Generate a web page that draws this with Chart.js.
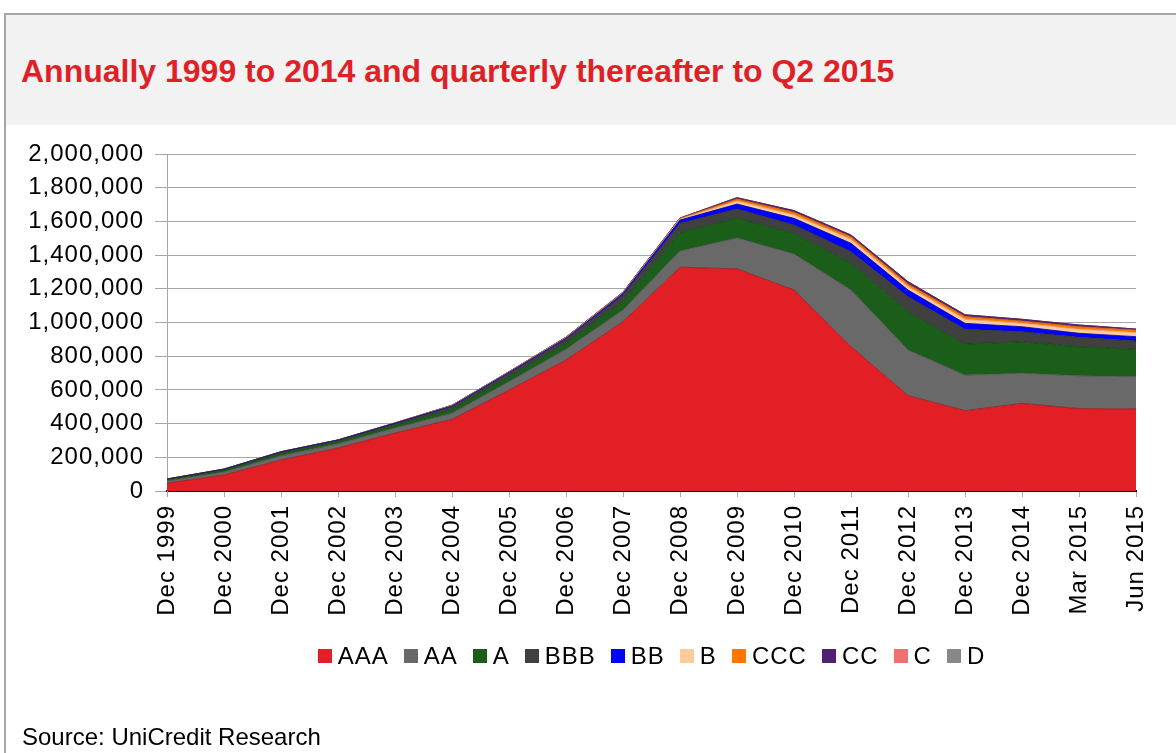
<!DOCTYPE html>
<html>
<head>
<meta charset="utf-8">
<script src="https://cdn.jsdelivr.net/npm/chart.js@4.4.1/dist/chart.umd.min.js"></script>
<style>
  html, body { margin:0; padding:0; background:#fff; }
  body { width:1176px; height:753px; position:relative; overflow:hidden; font-family:"Liberation Sans", Arial, sans-serif; }
  #frameTop { position:absolute; left:4px; top:13px; width:1172px; height:2px; background:#a6a6a6; }
  #frameLeft { position:absolute; left:4px; top:13px; width:2px; height:740px; background:#a6a6a6; }
  #band { position:absolute; left:6px; top:15px; width:1170px; height:110px; background:#f2f2f2; }
  #title { position:absolute; left:21px; top:55px; font-weight:bold; font-size:32px; line-height:32px; color:#e11f26; white-space:nowrap; }
  #source { position:absolute; left:22px; top:725px; font-size:24px; line-height:24px; color:#000; white-space:nowrap; }
  #chart { position:absolute; left:0; top:0; }
  #legend { position:absolute; top:644px; left:0; width:1303px; display:flex; justify-content:center; align-items:center; }
  .li { display:flex; align-items:center; margin-right:15px; }
  .li:last-child { margin-right:0; }
  .sw { width:14px; height:14px; margin-right:6px; }
  .lt { font-size:24px; line-height:24px; letter-spacing:1px; color:#000; }
</style>
</head>
<body>
<div id="frameTop"></div>
<div id="frameLeft"></div>
<div id="band"></div>
<div id="title">Annually 1999 to 2014 and quarterly thereafter to Q2 2015</div>
<canvas id="chart" width="1176" height="753"></canvas>
<div id="legend"></div>
<div id="source">Source: UniCredit Research</div>
<script>
const categories = ['Dec 1999','Dec 2000','Dec 2001','Dec 2002','Dec 2003','Dec 2004','Dec 2005','Dec 2006','Dec 2007','Dec 2008','Dec 2009','Dec 2010','Dec 2011','Dec 2012','Dec 2013','Dec 2014','Mar 2015','Jun 2015'];
const seriesNames = ['AAA','AA','A','BBB','BB','B','CCC','CC','C','D'];
const AAA = [47000,95000,184000,255000,344000,425000,599000,777000,1005000,1328000,1318000,1193000,857000,566000,477000,520000,489000,487000];
const AA  = [12000,18000,25000,25000,30000,36000,50000,64000,69000,96000,184000,214000,336000,271000,211000,179000,195000,191000];
const A   = [7000,10000,14000,14000,17000,24000,29000,35000,49000,111000,118000,122000,158000,227000,183000,187000,172000,163000];
const BBB = [4000,5000,7000,6000,8000,15000,20000,24000,40000,54000,54000,50000,69000,89000,89000,59000,56000,49000];
const BB  = [1000,2000,3000,3000,4000,5000,6000,7000,9000,19000,29000,39000,50000,40000,35000,30000,24000,26000];
const B   = [0,0,0,0,1000,2000,2000,3000,3000,6000,18000,20000,24000,20000,24000,20000,24000,24000];
const CCC = [0,0,0,0,0,1000,1000,2000,3000,4000,12000,16000,15000,16000,16000,14000,15000,15000];
const CC  = [0,0,0,0,0,1000,1000,1000,2000,2000,8000,10000,10000,13000,11000,10000,10000,6000];
const C   = [0,0,0,0,0,0,0,0,0,0,0,0,0,0,0,0,0,0];
const D   = [0,0,0,0,0,0,0,0,0,0,0,0,0,0,0,0,0,0];
const yTickValues = [0,200000,400000,600000,800000,1000000,1200000,1400000,1600000,1800000,2000000];

const seriesValues = [AAA, AA, A, BBB, BB, B, CCC, CC, C, D];
const fillColors = ['#e31f26','#696969','#1a5e1a','#404040','#0000ff','#ffcc99','#ff7700','#4f2170','#f07070','#888888'];
const lineColors = ['#8a1a1e','#4a4a4a','#124012','#2a2a2a','#0000b0','#e0a070','#c05a00','#4f2170','#c05050','#666666'];

const datasets = seriesNames.map((name, i) => ({
  label: name,
  data: seriesValues[i],
  backgroundColor: fillColors[i],
  borderColor: lineColors[i],
  borderWidth: 0.8,
  pointRadius: 0,
  pointHoverRadius: 0,
  tension: 0,
  fill: i === 0 ? 'origin' : '-1'
}));

const spacingPlugin = {
  id: 'spacing',
  beforeUpdate(c) { c.ctx.letterSpacing = '1px'; },
  beforeLayout(c) { c.ctx.letterSpacing = '1px'; },
  beforeDraw(c) { c.ctx.letterSpacing = '1px'; }
};

const font = { family: "'Liberation Sans', Arial, sans-serif", size: 24 };

new Chart(document.getElementById('chart'), {
  type: 'line',
  data: { labels: categories, datasets },
  plugins: [spacingPlugin],
  options: {
    responsive: false,
    animation: false,
    devicePixelRatio: 1,
    layout: { padding: { left: 0, top: 154, right: 40, bottom: 132 } },
    plugins: { legend: { display: false }, tooltip: { enabled: false }, title: { display: false } },
    scales: {
      x: {
        type: 'category',
        offset: false,
        grid: { display: true, drawOnChartArea: false, color: '#a6a6a6', tickLength: 6, lineWidth: 1 },
        border: { display: true, color: '#000', width: 2 },
        ticks: { color: '#000', font, minRotation: 90, maxRotation: 90, autoSkip: false, padding: 8 },
        afterFit: s => { s.height = 130; }
      },
      y: {
        stacked: true,
        min: 0,
        max: 2000000,
        afterBuildTicks: s => { s.ticks = yTickValues.map(v => ({ value: v })); },
        grid: { color: '#a6a6a6', tickLength: 12, lineWidth: 1 },
        border: { display: true, color: '#a6a6a6', width: 1 },
        ticks: { color: '#000', font, padding: 11, callback: v => Number(v).toLocaleString('en-US') },
        afterFit: s => { s.width = 167; }
      }
    }
  }
});

const legend = document.getElementById('legend');
seriesNames.forEach((name, i) => {
  const item = document.createElement('div');
  item.className = 'li';
  const sw = document.createElement('div');
  sw.className = 'sw';
  sw.style.background = fillColors[i];
  const t = document.createElement('span');
  t.className = 'lt';
  t.textContent = name;
  item.appendChild(sw); item.appendChild(t);
  legend.appendChild(item);
});
</script>
</body>
</html>
